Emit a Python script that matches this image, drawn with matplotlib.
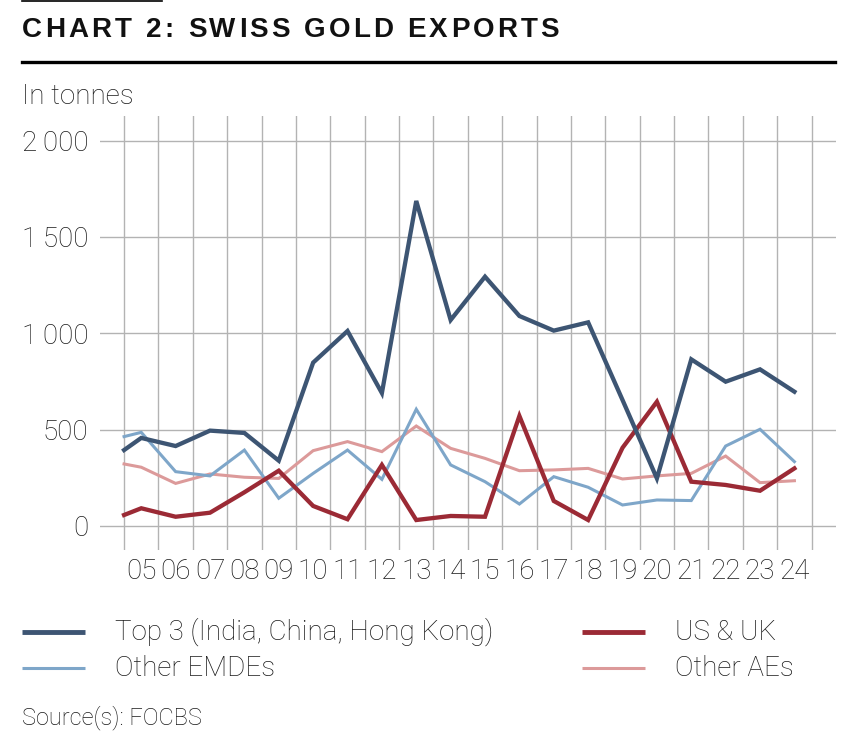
import matplotlib
matplotlib.use("Agg")
import matplotlib.pyplot as plt
from matplotlib.lines import Line2D
from matplotlib import font_manager, ft2font

plt.rcParams['font.family'] = ['Roboto', 'DejaVu Sans']

years = list(range(2005, 2025))
tick_labels = [f"{y % 100:02d}" for y in years]

# first value = start-of-period point, then yearly values (plotted at mid-year)
top3 = [394, 457, 415, 495, 483, 339, 848, 1012, 690, 1687, 1069,
        1294, 1090, 1014, 1057, 654, 247, 865, 749, 813, 697]
us_uk = [57, 92, 48, 69, 175, 287, 104, 35, 317, 31, 52,
         48, 571, 130, 31, 406, 645, 230, 213, 183, 299]
other_emde = [464, 486, 282, 260, 394, 144, 273, 394, 242, 606, 317,
              230, 114, 256, 201, 109, 135, 132, 415, 502, 334]
other_ae = [322, 305, 221, 270, 253, 247, 391, 438, 386, 519, 403,
            351, 287, 291, 299, 244, 260, 273, 363, 225, 235]

series_names = ["Top 3 (India, China, Hong Kong)", "US & UK", "Other EMDEs", "Other AEs"]
colors = ["#3d5573", "#9b2a35", "#7ea6c9", "#dc9a9a"]
widths = [3.1, 3.1, 2.2, 2.2]

x = [years[0]] + [y + 0.5 for y in years]

W, H = 855, 740
fig = plt.figure(figsize=(W/100, H/100), dpi=100)
ax = fig.add_axes([100/W, 1-550/H, 736/W, 434/H])

grid_c = "#b3b3b3"
for b in range(years[0], years[-1] + 2):
    ax.axvline(b, color=grid_c, lw=1.0, zorder=0)
for v in [0, 500, 1000, 1500, 2000]:
    ax.axhline(v, color=grid_c, lw=1.0, zorder=0)

for vals, c, w in [(other_ae, colors[3], widths[3]), (other_emde, colors[2], widths[2]),
                   (us_uk, colors[1], widths[1]), (top3, colors[0], widths[0])]:
    ax.plot(x, vals, color=c, lw=w, solid_joinstyle='miter', zorder=3)

ax.set_xlim(2004.30, 2025.71)
ax.set_ylim(-124.6, 2128)
ax.set_xticks([y + 0.5 for y in years])
ax.set_xticklabels(tick_labels)
ax.set_yticks([0, 500, 1000, 1500, 2000])
ax.set_yticklabels(["0", "500", "1\u2009000", "1\u2009500", "2\u2009000"])
ax.tick_params(axis='both', length=0, labelsize=20, colors="#1a1a1a")
ax.tick_params(axis='x', pad=6)
ax.tick_params(axis='y', pad=8.5)
for lab in ax.get_xticklabels() + ax.get_yticklabels():
    lab.set_fontweight('light')
for s in ax.spines.values():
    s.set_visible(False)

# header: title with letter tracking
title = "CHART 2: SWISS GOLD EXPORTS"
fp = font_manager.FontProperties(family='Liberation Sans', weight='bold', size=20)
ft = ft2font.FT2Font(font_manager.findfont(fp))
ft.set_size(20, 100)
adv = [ft.load_char(ord(ch)).linearHoriAdvance / 65536 for ch in title]
target_w = 537
track = (target_w - sum(adv)) / (len(title) - 1)
xx = 22
for ch, a in zip(title, adv):
    fig.text(xx/W, 1-30/H, ch, fontproperties=fp, va='center', ha='left', color="#111111")
    xx += a + track

fig.add_artist(Line2D([22/W, 162/W], [1-1/H, 1-1/H], color="black", lw=1.2))
fig.add_artist(Line2D([22/W, 835/W], [1-62/H, 1-62/H], color="black", lw=2.4))
fig.text(22/W, 1-97/H, "In tonnes", fontsize=20, fontweight='light', va='center', ha='left',
         color="#1a1a1a")

# legend
leg_items = [(0, 632, 0), (1, 632, 1), (2, 668, 0), (3, 668, 1)]
for i, yy, col in leg_items:
    x0 = 22 if col == 0 else 582
    fig.add_artist(Line2D([x0/W, (x0+63)/W], [1-yy/H, 1-yy/H], color=colors[i],
                          lw=widths[i] + (0.4 if i < 2 else 0), solid_capstyle='butt'))
    fig.text((x0+93)/W, 1-yy/H, series_names[i], fontsize=20, fontweight='light',
             va='center', ha='left', color="#1a1a1a")

fig.text(22/W, 1-718/H, "Source(s): FOCBS", fontsize=17, fontweight='light', va='center',
         ha='left', color="#1a1a1a")

fig.savefig("out.png", dpi=100)
